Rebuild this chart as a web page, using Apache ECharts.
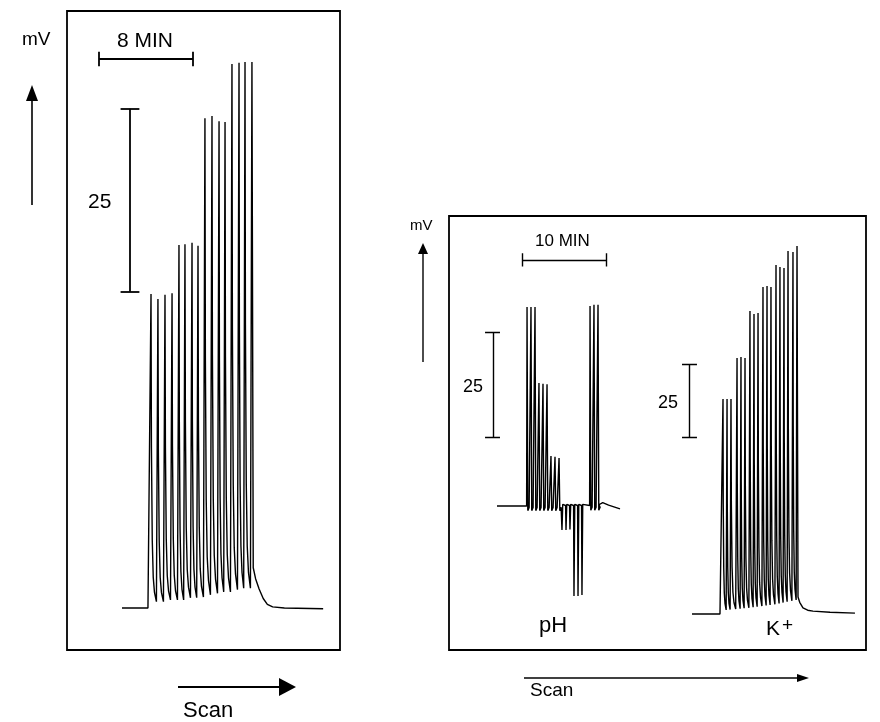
<!DOCTYPE html>
<html><head><meta charset="utf-8">
<script src="https://cdn.jsdelivr.net/npm/echarts@6/dist/echarts.min.js"></script>
<style>html,body{margin:0;padding:0;background:#fff}#c{width:880px;height:722px}</style>
</head><body><div id="c"></div>
<script>
// ---------- Left recording (time in min, signal in mV) ----------
const leftPeakTime = [7.15, 7.74, 8.34, 8.94, 9.53, 10.04, 10.64, 11.15, 11.74, 12.34, 12.94, 13.45, 14.04, 14.64, 15.15, 15.74];
const leftPeakMV   = [42.9, 42.2, 42.8, 43.0, 49.6, 49.7, 49.9, 49.5, 66.9, 67.2, 66.5, 66.4, 74.3, 74.5, 74.6, 74.6];
const leftValleyMV = [0.86, 0.86, 1.1, 1.1, 1.1, 1.4, 1.4, 1.5, 1.8, 2.0, 2.2, 2.2, 2.5, 2.7, 2.7];
const leftStart = [4.68, 0];
const leftFirstRise = 6.89;
const leftTailTime = [15.85, 16.05, 16.35, 16.7, 17.05, 17.5, 18.5, 21.8];
const leftTailMV   = [5.5, 4.0, 2.6, 1.3, 0.5, 0.15, 0, -0.1];

// ---------- Right recording: pH electrode ----------
const phPeakTime = [9.29, 9.76, 10.24, 10.71, 11.19, 11.67, 12.14, 12.62, 13.10, 13.45, 13.93, 14.40, 14.88, 15.36, 15.83, 16.79, 17.26, 17.74];
const phPeakMV   = [47.4, 47.4, 47.4, 29.3, 29.1, 29.0, 11.9, 11.7, 11.4, -5.7, -5.7, -5.6, -21.4, -21.4, -21.2, 47.6, 47.9, 47.9];
const phAfterMV  = [-1.1, -1.1, -1.1, -1.1, -1.1, -1.1, -1.1, -1.1, -1.1, 0.4, 0.4, 0.4, 0.4, 0.4, 0.4, -1.0, -1.0, -1.0];
const phStart = [5.71, 0];
const phTailTime = [17.85, 18.3, 19.0, 20.36];
const phTailMV   = [0.3, 0.8, 0.2, -0.7];

// ---------- Right recording: K+ electrode ----------
const kPeakTime = [32.62, 33.10, 33.57, 34.29, 34.76, 35.24, 35.83, 36.31, 36.79, 37.38, 37.86, 38.33, 38.93, 39.40, 39.88, 40.36, 40.95, 41.43];
const kPeakMV   = [73.6, 73.6, 73.6, 87.7, 88.0, 87.7, 103.8, 102.7, 103.1, 112.0, 112.3, 112.0, 119.5, 118.8, 118.5, 124.3, 124.0, 126.0];
const kValleyMV = [1.4, 1.5, 1.7, 1.8, 2.0, 2.1, 2.3, 2.5, 2.7, 2.9, 3.1, 3.3, 3.6, 3.9, 4.2, 4.5, 4.8];
const kStart = [28.93, 0];
const kFirstRise = 32.26;
const kTailTime = [41.55, 41.75, 42.14, 42.7, 43.33, 45.36, 48.33];
const kTailMV   = [5.8, 4.0, 2.1, 1.3, 1.0, 0.6, 0.3];

// ---------- Scale bars (data units of each panel) ----------
const leftTimeBar = {t0: 2.72, t1: 10.72, mv: 75.0, tick: 1.0};      // 8 MIN
const leftMvBar   = {t: 5.36, mv0: 43.2, mv1: 68.2, tick: 0.8};       // 25 mV
const phTimeBar   = {t0: 8.69, t1: 18.69, mv: 58.6, tick: 1.6};      // 10 MIN
const phMvBar     = {t: 5.24, mv0: 16.4, mv1: 41.4, tl: 4.29, tr: 6.07}; // 25 mV
const kMvBar      = {t: 28.57, mv0: 60.6, mv1: 85.6, tl: 27.74, tr: 29.52}; // 25 mV

// peak shape: [fraction of gap after the peak, fraction of height above valley]
const decayShape = [[0.06, 0.5], [0.18, 0.2], [0.32, 0.08], [0.5, 0.03], [0.78, 0.0]];

function spikeTrain(start, firstRise, T, V, valleys, tailT, tailV, riseDt) {
  const pts = [start.slice()];
  let level = 0;
  for (let i = 0; i < T.length; i++) {
    const t = T[i], h = V[i];
    pts.push([i === 0 ? firstRise : t - riseDt, level]);
    pts.push([t, h]);
    if (i < T.length - 1) {
      const v = valleys[i], gap = T[i + 1] - t;
      decayShape.forEach(([f, a]) => pts.push([t + f * gap, v + a * (h - v)]));
      level = v;
    }
  }
  tailT.forEach((t, i) => pts.push([t, tailV[i]]));
  return pts;
}

function phTrain() {
  const pts = [phStart.slice()];
  let level = 0;
  phPeakTime.forEach((t, i) => {
    pts.push([t - 0.05, level]);
    pts.push([t, phPeakMV[i]]);
    pts.push([t + 0.09, phAfterMV[i]]);
    pts.push([t + 0.25, phAfterMV[i] * 0.3]);
    level = phAfterMV[i] * 0.3;
  });
  phTailTime.forEach((t, i) => pts.push([t, phTailMV[i]]));
  return pts;
}

function hBar(b) { return [
  {coords: [[b.t0, b.mv], [b.t1, b.mv]]},
  {coords: [[b.t0, b.mv - b.tick], [b.t0, b.mv + b.tick]]},
  {coords: [[b.t1, b.mv - b.tick], [b.t1, b.mv + b.tick]]}]; }
function vBar(b, tl, tr) { return [
  {coords: [[b.t, b.mv0], [b.t, b.mv1]]},
  {coords: [[tl, b.mv0], [tr, b.mv0]]},
  {coords: [[tl, b.mv1], [tr, b.mv1]]}]; }

const FONT = 'Liberation Sans, Arial, Helvetica, sans-serif';
const chart = echarts.init(document.getElementById('c'), null, {renderer: 'canvas'});

const lineStyle = {color: '#000', width: 1.4};
const barStyle = {color: '#000', width: 1.8, opacity: 1};

chart.setOption({
  animation: false,
  backgroundColor: '#fff',
  grid: [
    {left: 67, top: 11, width: 273, height: 639, show: true, borderColor: '#000', borderWidth: 1.8, backgroundColor: 'transparent'},
    {left: 449, top: 216, width: 417, height: 434, show: true, borderColor: '#000', borderWidth: 1.8, backgroundColor: 'transparent'},
    {left: 449, top: 216, width: 417, height: 434, show: false}
  ],
  xAxis: [
    {type: 'value', gridIndex: 0, min: 0, max: 273 / 11.75, show: false},
    {type: 'value', gridIndex: 1, min: 0, max: 417 / 8.4, show: false},
    {type: 'value', gridIndex: 2, min: 0, max: 417 / 8.4, show: false}
  ],
  yAxis: [
    {type: 'value', gridIndex: 0, min: -42 / 7.32, max: 597 / 7.32, show: false},
    {type: 'value', gridIndex: 1, min: -144 / 4.2, max: 290 / 4.2, show: false},
    {type: 'value', gridIndex: 2, min: -36 / 2.92, max: 398 / 2.92, show: false}
  ],
  series: [
    {type: 'line', xAxisIndex: 0, yAxisIndex: 0, symbol: 'none', lineStyle,
     data: spikeTrain(leftStart, leftFirstRise, leftPeakTime, leftPeakMV, leftValleyMV, leftTailTime, leftTailMV, 0.04)},
    {type: 'line', xAxisIndex: 1, yAxisIndex: 1, symbol: 'none', lineStyle, data: phTrain()},
    {type: 'line', xAxisIndex: 2, yAxisIndex: 2, symbol: 'none', lineStyle,
     data: spikeTrain(kStart, kFirstRise, kPeakTime, kPeakMV, kValleyMV, kTailTime, kTailMV, 0.03)},
    {type: 'lines', coordinateSystem: 'cartesian2d', xAxisIndex: 0, yAxisIndex: 0, lineStyle: barStyle,
     data: hBar(leftTimeBar).concat(vBar(leftMvBar, leftMvBar.t - leftMvBar.tick, leftMvBar.t + leftMvBar.tick))},
    {type: 'lines', coordinateSystem: 'cartesian2d', xAxisIndex: 1, yAxisIndex: 1, lineStyle: {color: '#000', width: 1.4, opacity: 1},
     data: hBar(phTimeBar).concat(vBar(phMvBar, phMvBar.tl, phMvBar.tr))},
    {type: 'lines', coordinateSystem: 'cartesian2d', xAxisIndex: 2, yAxisIndex: 2, lineStyle: {color: '#000', width: 1.4, opacity: 1},
     data: vBar(kMvBar, kMvBar.tl, kMvBar.tr)}
  ],
  graphic: [
    // left panel annotations
    {type: 'text', left: 22, top: 30, style: {text: 'mV', font: '19px ' + FONT, fill: '#000'}},
    {type: 'line', shape: {x1: 32, y1: 100, x2: 32, y2: 205}, style: {stroke: '#000', lineWidth: 1.6}},
    {type: 'polygon', shape: {points: [[26, 101], [38, 101], [32, 85]]}, style: {fill: '#000'}},
    {type: 'text', left: 117, top: 31, style: {text: '8 MIN', font: '21px ' + FONT, fill: '#000'}},
    {type: 'text', left: 88, top: 192, style: {text: '25', font: '21px ' + FONT, fill: '#000'}},
    {type: 'line', shape: {x1: 178, y1: 687, x2: 282, y2: 687}, style: {stroke: '#000', lineWidth: 2}},
    {type: 'polygon', shape: {points: [[279, 678], [279, 696], [296, 687]]}, style: {fill: '#000'}},
    {type: 'text', left: 183, top: 700, style: {text: 'Scan', font: '22px ' + FONT, fill: '#000'}},
    // right panel annotations
    {type: 'text', left: 410, top: 218, style: {text: 'mV', font: '15px ' + FONT, fill: '#000'}},
    {type: 'line', shape: {x1: 423, y1: 252, x2: 423, y2: 362}, style: {stroke: '#000', lineWidth: 1.4}},
    {type: 'polygon', shape: {points: [[418, 254], [428, 254], [423, 243]]}, style: {fill: '#000'}},
    {type: 'text', left: 535, top: 233, style: {text: '10 MIN', font: '17px ' + FONT, fill: '#000'}},
    {type: 'text', left: 463, top: 378, style: {text: '25', font: '18px ' + FONT, fill: '#000'}},
    {type: 'text', left: 658, top: 394, style: {text: '25', font: '18px ' + FONT, fill: '#000'}},
    {type: 'text', left: 539, top: 615, style: {text: 'pH', font: '22px ' + FONT, fill: '#000'}},
    {type: 'text', left: 766, top: 616, style: {text: '{k|K}{s|+}', rich: {k: {font: '21px ' + FONT, fill: '#000'}, s: {font: '19px ' + FONT, fill: '#000', verticalAlign: 'top', padding: [0, 0, 8, 2]}}}},
    {type: 'line', shape: {x1: 524, y1: 678, x2: 800, y2: 678}, style: {stroke: '#000', lineWidth: 1.4}},
    {type: 'polygon', shape: {points: [[797, 674], [797, 682], [809, 678]]}, style: {fill: '#000'}},
    {type: 'text', left: 530, top: 681, style: {text: 'Scan', font: '19px ' + FONT, fill: '#000'}}
  ]
});
</script></body></html>
